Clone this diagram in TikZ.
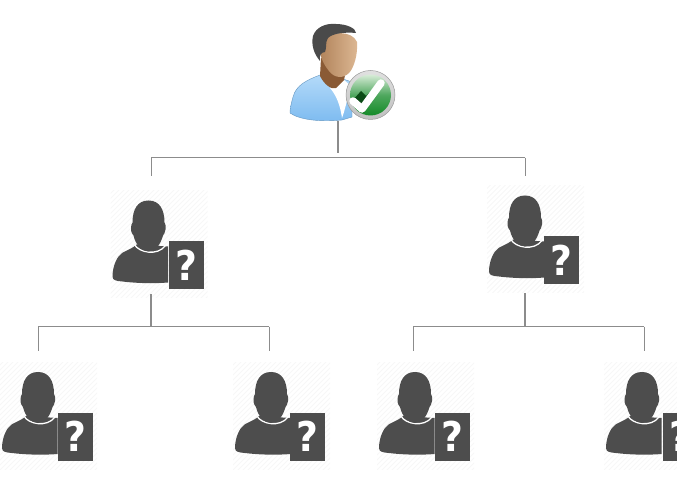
\documentclass[tikz,border=0pt]{standalone}
\usepackage{fontspec}
\setmainfont{DejaVu Sans}
\usetikzlibrary{calc}
\definecolor{icon}{HTML}{4D4D4D}
\definecolor{hatch}{HTML}{F7F7F7}
\definecolor{wire}{HTML}{8C8C8C}
\definecolor{skyA}{HTML}{B4DAF9}
\definecolor{skyB}{HTML}{7DBBF0}
\definecolor{skinA}{HTML}{DDB894}
\definecolor{skinB}{HTML}{B08259}
\definecolor{neckc}{HTML}{8A5A35}
\definecolor{hairc}{HTML}{4A4A4A}
\definecolor{greenA}{HTML}{D8ECD8}
\definecolor{greenB}{HTML}{148A28}
\tikzset{
  stem/.style={draw=wire,line width=1.8pt},
  branch/.style={draw=wire,line width=1pt},
  anchorpt/.style={inner sep=0pt,minimum size=0pt},
  qmark/.style={text=white,inner sep=0pt,xscale=.92,transform shape,font=\bfseries\fontsize{41}{41}\selectfont},
  pics/unknown/.default=0,
  pics/unknown/.style={code={
    \begin{scope}
      \clip (-38,-10) rectangle (59,97);
      \foreach \k in {-120,-115,...,120}{
        \draw[hatch,line width=.8pt] (\k-30,100) -- (\k+90,-20);
      }
    \end{scope}
    \fill[icon] (-12,44) .. controls (-18,50) and (-26,50) .. (-30,56)
      .. controls (-35,63) and (-36,72) .. (-36,76)
      .. controls (-36,80) and (-32,80.5) .. (-26,81)
      .. controls (-10,83) and (8,83) .. (19.5,82) -- (19.5,46) -- cycle;
    \draw[white,line width=1.3pt] (-14,44) .. controls (-10,52) and (9,56) .. (17,45);
    \fill[icon] (0,0) .. controls (11,0) and (16,9) .. (16,22)
      .. controls (17,23) and (17.5,26) .. (17,29)
      .. controls (16.5,32) and (15.5,34) .. (14.5,35)
      .. controls (12,44) and (7,51) .. (0,51)
      .. controls (-7,51) and (-13,44) .. (-15,35)
      .. controls (-16,34) and (-17.5,32) .. (-17.5,28)
      .. controls (-17.5,25) and (-17,23) .. (-16,22)
      .. controls (-16,9) and (-11,0) .. (0,0) -- cycle;
    \fill[icon] (20.5+#1,40.5) rectangle (55.5+#1,88.5);
    \node[qmark] at (38+#1,64.5) {?};
  }}
}
\begin{document}
\begin{tikzpicture}[x=1pt,y=-1pt]
\useasboundingbox (0,0) rectangle (677,478);
\clip (0,0) rectangle (677,478);

% root figure
\shade[top color=skyA,bottom color=skyB,draw=skyB!80!black,line width=.4pt]
  (320,75) .. controls (307,80) and (296,85) .. (293,97)
  .. controls (291,104) and (290,109) .. (290,113)
  .. controls (300,120) and (320,122) .. (342,120)
  -- (352,117) -- (352,82) -- (343,79) -- cycle;
\fill[white] (330,88) -- (344,80) -- (351,86) -- (344,112) -- (342,118) .. controls (340,104) and (336,95) .. (330,88) -- cycle;
\fill[neckc] (321,58) -- (320,76) .. controls (324,84) and (331,90) .. (336,88) -- (344,80) -- (346,70) -- cycle;
\shade[left color=skinB,right color=skinA]
  (322,40) .. controls (330,31) and (352,30) .. (357,42)
  .. controls (358,54) and (354,68) .. (349,73)
  .. controls (343,79) and (334,78) .. (329,71)
  .. controls (324,65) and (319,56) .. (320,46) -- cycle;
\fill[hairc] (320,61) .. controls (314,54) and (311,45) .. (313,36)
  .. controls (316,27) and (326,23) .. (336,24)
  .. controls (346,24) and (356,28) .. (356,33)
  .. controls (346,32) and (333,33) .. (328,38)
  .. controls (325,42) and (327,48) .. (325,52)
  .. controls (321,52) and (319,56) .. (320,61) -- cycle;
\node[anchorpt] (root) at (338,121) {};
% badge
\shade[top color=black!12,bottom color=black!25,draw=black!40,line width=.5pt] (370.5,95) circle (24.5);
\shade[shading angle=135,top color=greenA,bottom color=greenB,middle color=greenB!75!white] (370.5,95) circle (20.5);
\fill[greenB!55!black] (353,100) -- (361,91) -- (366,96) -- (376,86) -- (364,113) -- cycle;
\draw[white,line width=7.5pt,line cap=round,line join=round] (353,101) -- (362,109) -- (381,83);

% people
\pic at (148.5,200.5) {unknown};
\pic at (525,195.5) {unknown=-1.5};
\pic at (38,372) {unknown=-.5};
\pic at (271,372) {unknown=-1.5};
\pic at (415,372) {unknown=-1};
\pic at (642,372) {unknown};

% connector points
\node[anchorpt] (rootfoot) at (338,153) {};
\node[anchorpt] (busL) at (151,157.5) {};
\node[anchorpt] (busR) at (525,157.5) {};
\node[anchorpt] (childL) at (151,176) {};
\node[anchorpt] (childR) at (525,176) {};
\node[anchorpt] (midL) at (151,294) {};
\node[anchorpt] (midLf) at (151,326.5) {};
\node[anchorpt] (midR) at (525,293) {};
\node[anchorpt] (midRf) at (525,326.5) {};
\node[anchorpt] (a1) at (38,326.5) {};
\node[anchorpt] (a2) at (269,326.5) {};
\node[anchorpt] (b1) at (413,326.5) {};
\node[anchorpt] (b2) at (644,326.5) {};
\node[anchorpt] (a1f) at (38,351) {};
\node[anchorpt] (a2f) at (269,351) {};
\node[anchorpt] (b1f) at (413,351) {};
\node[anchorpt] (b2f) at (644,351) {};

\draw[stem] (root) -- (rootfoot);
\draw[branch] (childL) -- (busL) -- (busR) -- (childR);
\draw[stem] (midL) -- (midLf);
\draw[stem] (midR) -- (midRf);
\draw[branch] (a1f) -- (a1) -- (a2) -- (a2f);
\draw[branch] (b1f) -- (b1) -- (b2) -- (b2f);
\end{tikzpicture}
\end{document}
